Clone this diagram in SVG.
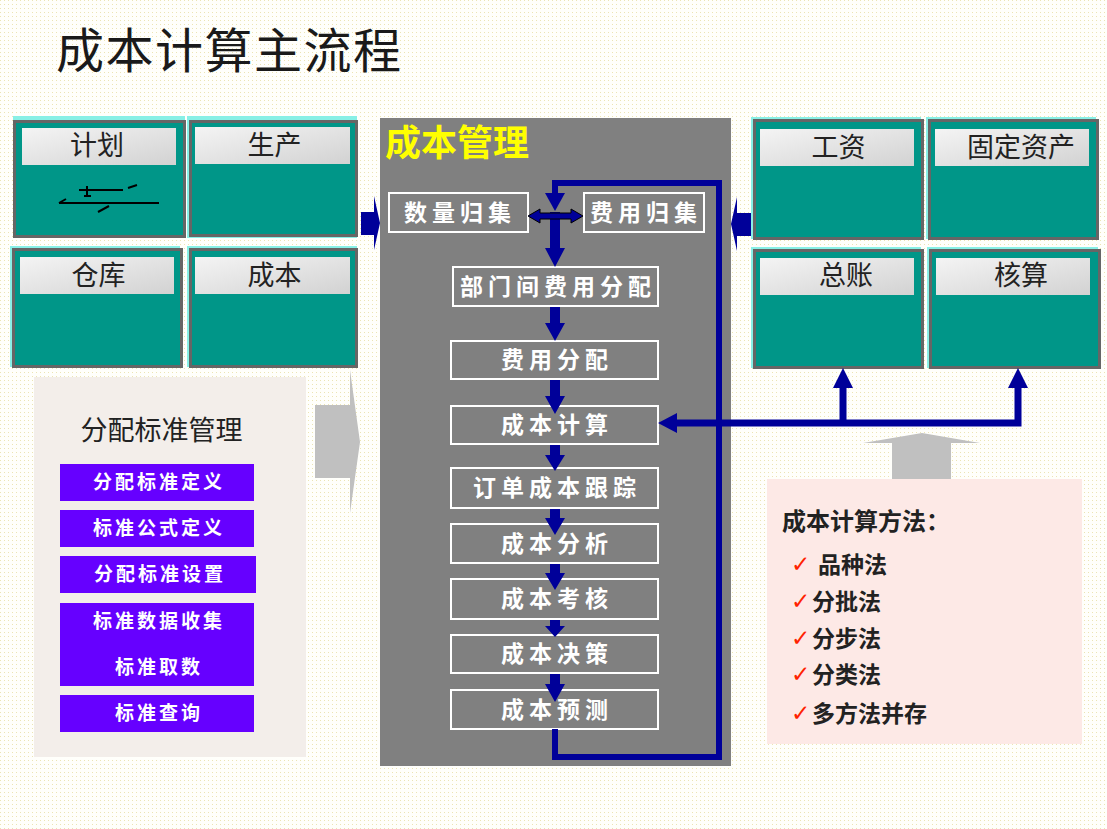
<svg xmlns="http://www.w3.org/2000/svg" width="1107" height="829" viewBox="0 0 1107 829">
<style>
.title{font-family:"Noto Sans CJK SC","Noto Sans",sans-serif;font-size:48px;fill:#1a1a1a;letter-spacing:1.5px}
.mod{fill:#009688;stroke:#666666;stroke-width:3}
.glow{fill:#88f0e6}
.bar{fill:url(#barg)}
.lbl{font-family:"Liberation Serif","Noto Sans CJK SC",serif;font-size:27px;fill:#222;text-anchor:middle}
.wbox{fill:none;stroke:#ffffff;stroke-width:2}
.wt{font-family:"Liberation Serif","Noto Sans CJK SC",serif;font-size:23px;fill:#ffffff;text-anchor:middle;letter-spacing:5px;font-weight:bold}
.pbox{fill:#6600ff}
.pt{font-family:"Liberation Serif","Noto Sans CJK SC",serif;font-size:19px;fill:#ffffff;text-anchor:middle;letter-spacing:3px;font-weight:bold}
.blue{fill:#000099}
.bline{fill:none;stroke:#000099}
.gray{fill:#c0c0c0}
.mt{font-family:"Noto Sans CJK SC","Noto Sans",sans-serif;font-weight:bold;fill:#222}
.chk{font-family:"DejaVu Sans",sans-serif;font-size:23px;font-weight:bold;fill:#ff2200}
</style>
<defs>
<pattern id="dots" width="4" height="4" patternUnits="userSpaceOnUse">
<rect width="4" height="4" fill="#fffffb"/>
<rect x="0" y="0" width="1" height="1" fill="#ece4b4"/>
</pattern>
<linearGradient id="barg" x1="0" y1="0" x2="1" y2="1">
<stop offset="0" stop-color="#f4f4f4"/>
<stop offset="1" stop-color="#d2d2d2"/>
</linearGradient>
</defs>
<rect width="1107" height="829" fill="url(#dots)"/>
<text class="title" x="56" y="68">成本计算主流程</text>

<g id="mod-jihua">
<rect class="glow" x="13" y="116" width="172" height="120"/>
<rect class="mod" x="14.5" y="121.5" width="170" height="115"/>
<rect class="bar" x="22" y="128" width="154" height="37"/>
<text class="lbl" x="97" y="155">计划</text>
<g stroke="#000" stroke-width="2" fill="none">
<path d="M79,190 H123 M87,186 V196 M84,196 H91 M128,188 L137,185 M59,203 H159 M59,203 L66,199 M98,212 L109,206"/>
</g>
</g>
<g id="mod-shengchan">
<rect class="glow" x="187" y="116" width="170" height="122"/>
<rect class="mod" x="190.5" y="121.5" width="166" height="114"/>
<rect class="bar" x="195" y="127" width="155" height="37"/>
<text class="lbl" x="274.5" y="155">生产</text>
</g>
<g id="mod-cangku">
<rect class="glow" x="10" y="246" width="170" height="121"/>
<rect class="mod" x="13.5" y="249.5" width="168" height="117"/>
<rect class="bar" x="20" y="257" width="154" height="37"/>
<text class="lbl" x="98.5" y="285">仓库</text>
</g>
<g id="mod-chengben">
<rect class="glow" x="187" y="246" width="170" height="121"/>
<rect class="mod" x="190.5" y="249.5" width="166" height="117"/>
<rect class="bar" x="195" y="257" width="155" height="37"/>
<text class="lbl" x="274.5" y="285">成本</text>
</g>

<g id="mod-gongzi">
<rect class="glow" x="751" y="117" width="170" height="122"/>
<rect class="mod" x="754.5" y="120.5" width="168" height="118"/>
<rect class="bar" x="760" y="129" width="154" height="37"/>
<text class="lbl" x="838.5" y="157">工资</text>
</g>
<g id="mod-guding">
<rect class="glow" x="926" y="117" width="170" height="122"/>
<rect class="mod" x="929.5" y="120.5" width="168" height="118"/>
<rect class="bar" x="935" y="129" width="154" height="37"/>
<text class="lbl" x="1021" y="157">固定资产</text>
</g>
<g id="mod-zongzhang">
<rect class="glow" x="751" y="247" width="170" height="121"/>
<rect class="mod" x="754.5" y="250.5" width="168" height="117"/>
<rect class="bar" x="760" y="258" width="154" height="37"/>
<text class="lbl" x="846" y="285">总账</text>
</g>
<g id="mod-hesuan">
<rect class="glow" x="927" y="247" width="171" height="121"/>
<rect class="mod" x="930.5" y="250.5" width="169" height="117"/>
<rect class="bar" x="936" y="258" width="154" height="37"/>
<text class="lbl" x="1021" y="285">核算</text>
</g>

<g id="panel-fenpei">
<rect x="34" y="377" width="272" height="380" fill="#f3eeea"/>
<text x="161.5" y="440" font-family="Liberation Serif,'Noto Sans CJK SC',serif" font-size="27" fill="#222" text-anchor="middle">分配标准管理</text>
<g id="fp1"><rect class="pbox" x="60" y="464" width="194" height="37"/><text class="pt" x="159" y="489">分配标准定义</text></g>
<g id="fp2"><rect class="pbox" x="60" y="510" width="194" height="37"/><text class="pt" x="159" y="535">标准公式定义</text></g>
<g id="fp3"><rect class="pbox" x="60" y="556" width="196" height="37"/><text class="pt" x="160" y="581">分配标准设置</text></g>
<g id="fp4"><rect class="pbox" x="60" y="603" width="194" height="83"/><text class="pt" x="159" y="628">标准数据收集</text><text class="pt" x="159" y="674">标准取数</text></g>
<g id="fp5"><rect class="pbox" x="60" y="695" width="194" height="37"/><text class="pt" x="159" y="720">标准查询</text></g>
</g>

<g id="panel-methods">
<rect x="767" y="479" width="315" height="265" fill="#fde9e6"/>
<text class="mt" x="782" y="530" font-size="24">成本计算方法：</text>
<text class="chk" x="791" y="572">✓</text><text class="mt" x="818" y="573" font-size="23">品种法</text>
<text class="chk" x="791" y="609">✓</text><text class="mt" x="812" y="610" font-size="23">分批法</text>
<text class="chk" x="791" y="646">✓</text><text class="mt" x="812" y="647" font-size="23">分步法</text>
<text class="chk" x="791" y="682">✓</text><text class="mt" x="812" y="683" font-size="23">分类法</text>
<text class="chk" x="791" y="721">✓</text><text class="mt" x="812" y="722" font-size="23">多方法并存</text>
</g>

<g id="panel-main">
<rect x="380" y="118" width="351" height="648" fill="#808080"/>
<text x="385" y="156" font-family="'Noto Sans CJK SC',sans-serif" font-size="36" font-weight="bold" fill="#ffff00">成本管理</text>
</g>

<g id="node-shuliang"><rect class="wbox" x="389" y="193" width="139" height="39"/><text class="wt" x="460" y="221">数量归集</text></g>
<g id="node-feiyong"><rect class="wbox" x="584" y="193" width="120" height="39"/><text class="wt" x="646" y="221">费用归集</text></g>
<g id="node-bumen"><rect class="wbox" x="453" y="267" width="205" height="39"/><text class="wt" x="558" y="295">部门间费用分配</text></g>
<g id="node-fpei"><rect class="wbox" x="451" y="341" width="207" height="38"/><text class="wt" x="557" y="368">费用分配</text></g>
<g id="node-jisuan"><rect class="wbox" x="451" y="406" width="207" height="38"/><text class="wt" x="557" y="433">成本计算</text></g>
<g id="node-genzong"><rect class="wbox" x="451" y="468" width="207" height="40"/><text class="wt" x="557" y="496">订单成本跟踪</text></g>
<g id="node-fenxi"><rect class="wbox" x="451" y="524" width="207" height="39"/><text class="wt" x="557" y="552">成本分析</text></g>
<g id="node-kaohe"><rect class="wbox" x="451" y="579" width="207" height="40"/><text class="wt" x="557" y="607">成本考核</text></g>
<g id="node-juece"><rect class="wbox" x="451" y="635" width="207" height="38"/><text class="wt" x="557" y="662">成本决策</text></g>
<g id="node-yuce"><rect class="wbox" x="451" y="690" width="207" height="39"/><text class="wt" x="557" y="718">成本预测</text></g>

<g id="connectors">
<polygon class="blue" points="361,212 374,212 374,196 380,223 374,250 374,235 361,235"/>
<polygon class="blue" points="751,213 737,213 737,197 731,224 737,251 737,236 751,236"/>
<polygon class="gray" points="315,405 350,405 350,370 360,442 350,513 350,478 315,478"/>
<polygon class="gray" points="892,479 892,443 863,443 922,433 980,443 951,443 951,479"/>
<path class="bline" stroke-width="6" d="M555,729 V757 H719 V183 H555 V195"/>
<polygon class="blue" points="545,193 565,193 555,211"/>
<polygon class="blue" points="550,212 560,212 560,248 565,248 555,267 545,248 550,248"/>
<polygon fill="#000099" stroke="#000" stroke-width="1" points="528,216 540,209 540,213 571,213 571,209 583,216 571,223 571,219 540,219 540,223"/>
<polygon class="blue" points="550,307 560,307 560,323 565,323 555,341 545,323 550,323"/>
<polygon class="blue" points="550,380 560,380 560,396 565,396 555,414 545,396 550,396"/>
<polygon class="blue" points="550,445 560,445 560,455 565,455 555,471 545,455 550,455"/>
<polygon class="blue" points="550,509 560,509 560,518 565,518 555,535 545,518 550,518"/>
<polygon class="blue" points="550,564 560,564 560,573 565,573 555,590 545,573 550,573"/>
<polygon class="blue" points="550,620 560,620 560,626 565,626 555,637 545,626 550,626"/>
<polygon class="blue" points="550,674 560,674 560,684 565,684 555,702 545,684 550,684"/>
<path class="bline" stroke-width="7" d="M1018,386 V423 H676 M843,423 V386"/>
<polygon class="blue" points="677,413 658,423 677,433"/>
<polygon class="blue" points="833,388 843,368 853,388"/>
<polygon class="blue" points="1008,388 1018,368 1028,388"/>
</g>
</svg>
